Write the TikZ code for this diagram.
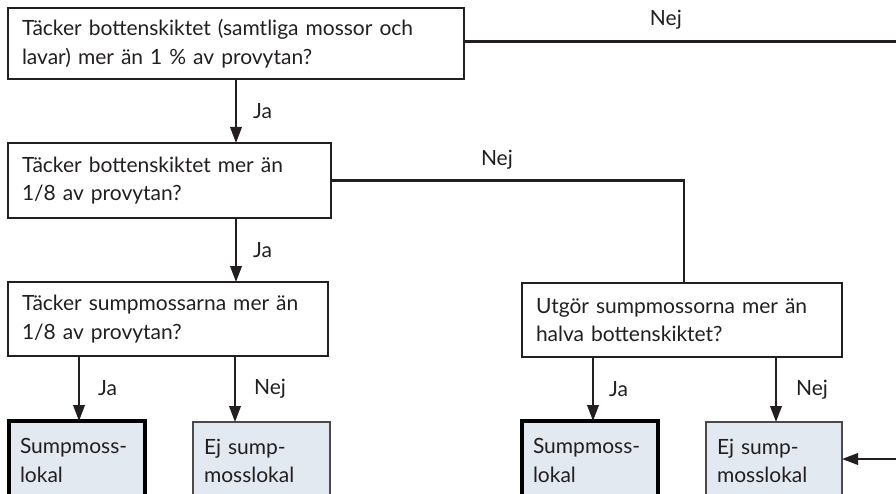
\documentclass[tikz,border=0pt]{standalone}
\usepackage{fontspec}
\setmainfont{Lato}
\usetikzlibrary{arrows.meta}
\definecolor{ink}{HTML}{231F20}
\definecolor{paleblue}{HTML}{E3E9F0}
\definecolor{edgegray}{HTML}{4A4A4A}
\begin{document}
\begin{tikzpicture}[x=1pt,y=-1pt,
  txt/.style={font=\fontsize{21}{28.5}\selectfont, text=ink},
  qbox/.style={txt, draw=ink, line width=1.8pt, fill=white, anchor=north west,
    outer sep=0pt, inner xsep=14pt, inner ysep=0pt, align=left},
  rbox/.style={txt, fill=paleblue, anchor=north west, outer sep=0pt,
    inner xsep=11pt, inner ysep=0pt, align=left},
  okbox/.style={rbox, draw=black, line width=4.5pt},
  nobox/.style={rbox, draw=edgegray, line width=1.8pt},
  conn/.style={draw=ink, line width=2.2pt},
  arr/.style={conn, -{Triangle[length=16pt,width=11.5pt]}},
  lab/.style={txt, inner sep=0pt}
]
\useasboundingbox (0,0) rectangle (896,494);
\clip (0,0) rectangle (896,494);

% question boxes
\node[qbox, minimum width=456pt, minimum height=71pt, text width=428pt] (q1) at (8,8)
  {Täcker bottenskiktet (samtliga mossor och\\lavar) mer än 1 \% av provytan?};
\node[qbox, minimum width=323pt, minimum height=75pt, text width=295pt] (q2) at (8,143)
  {Täcker bottenskiktet mer än\\1/8 av provytan?};
\node[qbox, minimum width=320pt, minimum height=74pt, text width=292pt] (q3) at (8,282)
  {Täcker sumpmossarna mer än\\1/8 av provytan?};
\node[qbox, minimum width=320pt, minimum height=74pt, text width=292pt] (q4) at (522,283)
  {Utgör sumpmossorna mer än\\halva bottenskiktet?};

% result boxes
\node[okbox, minimum width=136pt, minimum height=79pt, text width=114pt] (s1) at (9,421)
  {Sumpmoss-\\lokal};
\node[nobox, minimum width=137pt, minimum height=78pt, text width=115pt] (e1) at (193,422)
  {Ej sump-\\mosslokal};
\node[okbox, minimum width=136pt, minimum height=79pt, text width=114pt] (s2) at (522,421)
  {Sumpmoss-\\lokal};
\node[nobox, minimum width=136pt, minimum height=78pt, text width=114pt] (e2) at (706,422)
  {Ej sump-\\mosslokal};

% helper coordinates
\coordinate (rx) at (900,0);
\coordinate (c4) at ([xshift=162pt]q4.north west);
\coordinate (r2) at (900,459);

% connectors
\draw[arr] ([xshift=228pt]q1.south west) -- node[lab, anchor=west, xshift=16pt] (ja1) {Ja} ([xshift=228pt]q2.north west);
\draw[arr] ([xshift=228pt]q2.south west) -- node[lab, anchor=west, xshift=16pt] (ja2) {Ja} ([xshift=228pt]q3.north west);
\draw[arr] ([xshift=71pt]q3.south west) -- node[lab, anchor=west, xshift=18pt] (ja3) {Ja} ([xshift=70pt]s1.north west);
\draw[arr] ([xshift=227pt]q3.south west) -- node[lab, anchor=west, xshift=18pt] (nej3) {Nej} ([xshift=42pt]e1.north west);
\draw[arr] ([xshift=71pt]q4.south west) -- node[lab, anchor=west, xshift=15pt] (ja4) {Ja} ([xshift=71pt]s2.north west);
\draw[arr] ([xshift=254pt]q4.south west) -- node[lab, anchor=west, xshift=19pt] (nej4) {Nej} ([xshift=70pt]e2.north west);

\draw[conn] ([yshift=2pt]q1.east) -- node[lab, pos=0.463, anchor=base, yshift=16pt] (nej1) {Nej} ([yshift=2pt]q1.east -| rx);
\draw[conn] (q2.east) -- node[lab, pos=0.47, anchor=base, yshift=15pt] (nej2) {Nej} (q2.east -| c4) -- (c4);
\draw[arr] (r2) -- (r2 -| e2.east);
\end{tikzpicture}
\end{document}
